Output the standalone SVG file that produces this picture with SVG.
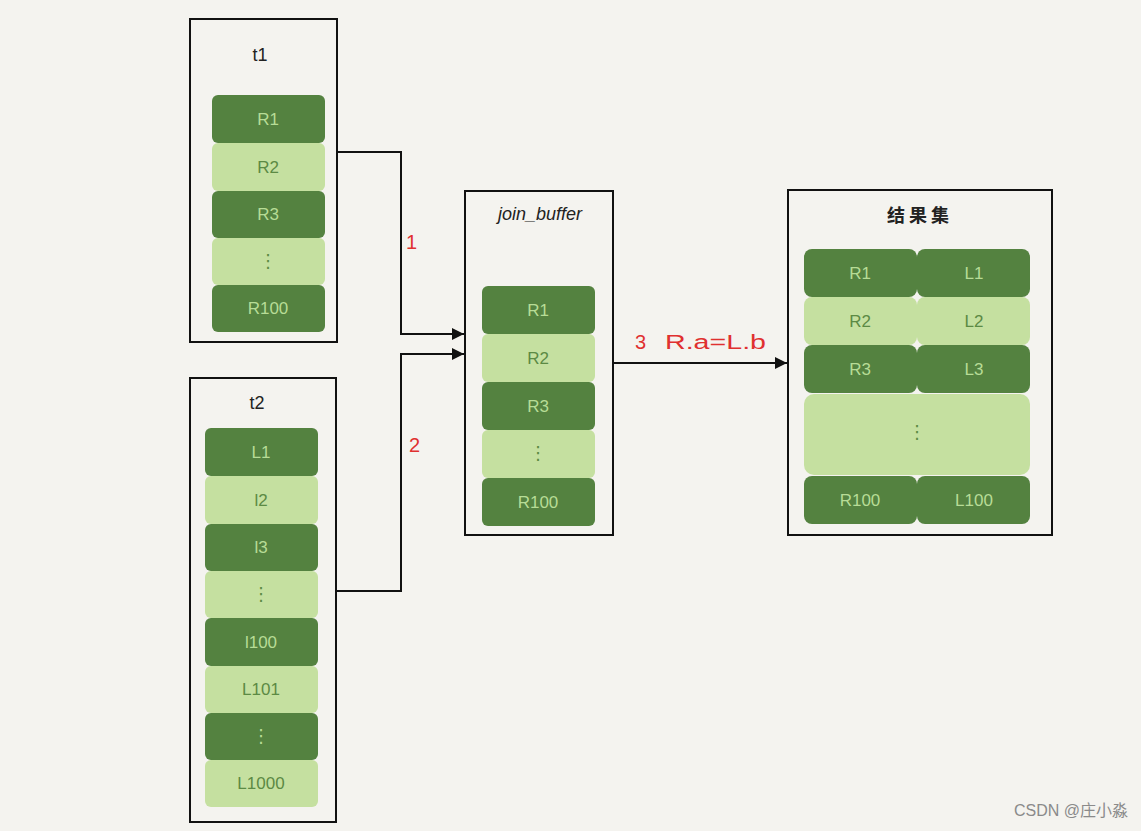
<svg xmlns="http://www.w3.org/2000/svg" width="1141" height="831" viewBox="0 0 1141 831">
<defs>
<style>
.frame{fill:none;stroke:#111;stroke-width:2}
.dk{fill:#548240}
.lt{fill:#c5e0a0}
.tdk{font-family:"Liberation Sans",sans-serif;font-size:17px;fill:#b7dc96;text-anchor:middle}
.tlt{font-family:"Liberation Sans",sans-serif;font-size:17px;fill:#5c8a44;text-anchor:middle}
.dots{font-family:"DejaVu Sans",sans-serif;font-size:18px;text-anchor:middle}
.title{font-family:"Liberation Sans","Noto Sans CJK SC",sans-serif;font-size:18px;fill:#222;text-anchor:middle}
.lbl{font-family:"Liberation Sans",sans-serif;font-size:20px;fill:#e03030}
.conn{fill:none;stroke:#111;stroke-width:2}
</style>
<marker id="arr" viewBox="0 0 10 10" refX="10" refY="5" markerWidth="6" markerHeight="6" markerUnits="strokeWidth" orient="auto">
<path d="M0,0 L10,5 L0,10 z" fill="#111"/>
</marker>
</defs>
<rect width="1141" height="831" fill="#f4f3ef"/>

<g id="t1">
<rect class="frame" x="190" y="19" width="147" height="323"/>
<text class="title" x="260" y="61">t1</text>
<rect class="dk" x="212" y="95" width="113" height="48" rx="6"/>
<text class="tdk" x="268" y="125">R1</text>
<rect class="lt" x="212" y="143" width="113" height="48" rx="6"/>
<text class="tlt" x="268" y="173">R2</text>
<rect class="dk" x="212" y="191" width="113" height="47" rx="6"/>
<text class="tdk" x="268" y="220">R3</text>
<rect class="lt" x="212" y="238" width="113" height="47" rx="6"/>
<text class="dots" x="268" y="267" fill="#5c8a44">⋮</text>
<rect class="dk" x="212" y="285" width="113" height="47" rx="6"/>
<text class="tdk" x="268" y="314">R100</text>
</g>

<g id="t2">
<rect class="frame" x="190" y="378" width="146" height="444"/>
<text class="title" x="257" y="409">t2</text>
<rect class="dk" x="205" y="428" width="113" height="48" rx="6"/>
<text class="tdk" x="261" y="458">L1</text>
<rect class="lt" x="205" y="476" width="113" height="48" rx="6"/>
<text class="tlt" x="261" y="506">l2</text>
<rect class="dk" x="205" y="524" width="113" height="47" rx="6"/>
<text class="tdk" x="261" y="553">l3</text>
<rect class="lt" x="205" y="571" width="113" height="47" rx="6"/>
<text class="dots" x="261" y="600" fill="#5c8a44">⋮</text>
<rect class="dk" x="205" y="618" width="113" height="48" rx="6"/>
<text class="tdk" x="261" y="648">l100</text>
<rect class="lt" x="205" y="666" width="113" height="47" rx="6"/>
<text class="tlt" x="261" y="695">L101</text>
<rect class="dk" x="205" y="713" width="113" height="47" rx="6"/>
<text class="dots" x="261" y="742" fill="#b7dc96">⋮</text>
<rect class="lt" x="205" y="760" width="113" height="47" rx="6"/>
<text class="tlt" x="261" y="789">L1000</text>
</g>

<g id="join_buffer">
<rect class="frame" x="465" y="191" width="148" height="344"/>
<text class="title" x="540" y="220" style="font-style:italic">join_buffer</text>
<rect class="dk" x="482" y="286" width="113" height="48" rx="6"/>
<text class="tdk" x="538" y="316">R1</text>
<rect class="lt" x="482" y="334" width="113" height="48" rx="6"/>
<text class="tlt" x="538" y="364">R2</text>
<rect class="dk" x="482" y="382" width="113" height="48" rx="6"/>
<text class="tdk" x="538" y="412">R3</text>
<rect class="lt" x="482" y="430" width="113" height="48" rx="6"/>
<text class="dots" x="538" y="459" fill="#5c8a44">⋮</text>
<rect class="dk" x="482" y="478" width="113" height="48" rx="6"/>
<text class="tdk" x="538" y="508">R100</text>
</g>

<g id="result">
<rect class="frame" x="788" y="190" width="264" height="345"/>
<text class="title" x="920" y="222" style="font-weight:bold;letter-spacing:4px">结果集</text>
<rect class="dk" x="804" y="249" width="113" height="48" rx="8"/>
<rect class="dk" x="917" y="249" width="113" height="48" rx="8"/>
<text class="tdk" x="860" y="279">R1</text>
<text class="tdk" x="974" y="279">L1</text>
<rect class="lt" x="804" y="297" width="113" height="48" rx="8"/>
<rect class="lt" x="917" y="297" width="113" height="48" rx="8"/>
<text class="tlt" x="860" y="327">R2</text>
<text class="tlt" x="974" y="327">L2</text>
<rect class="dk" x="804" y="345" width="113" height="48" rx="8"/>
<rect class="dk" x="917" y="345" width="113" height="48" rx="8"/>
<text class="tdk" x="860" y="375">R3</text>
<text class="tdk" x="974" y="375">L3</text>
<rect class="lt" x="804" y="394" width="226" height="81" rx="10"/>
<text class="dots" x="917" y="438" fill="#5c8a44">⋮</text>
<rect class="dk" x="804" y="476" width="113" height="48" rx="8"/>
<rect class="dk" x="917" y="476" width="113" height="48" rx="8"/>
<text class="tdk" x="860" y="506">R100</text>
<text class="tdk" x="974" y="506">L100</text>
</g>

<g id="connectors">
<path class="conn" d="M337,152 H401 V334 H464" marker-end="url(#arr)"/>
<path class="conn" d="M336,591 H401 V354 H464" marker-end="url(#arr)"/>
<path class="conn" d="M613,363 H787" marker-end="url(#arr)"/>
<text class="lbl" x="406" y="249">1</text>
<text class="lbl" x="409" y="452">2</text>
<text class="lbl" y="349"><tspan x="635">3</tspan> <tspan x="665" textLength="101" lengthAdjust="spacingAndGlyphs">R.a=L.b</tspan></text>
</g>

<text x="1128" y="816" text-anchor="end" style="font-family:'Liberation Sans','Noto Sans CJK SC',sans-serif;font-size:16px;fill:#8a8a8a">CSDN @庄小淼</text>
</svg>
